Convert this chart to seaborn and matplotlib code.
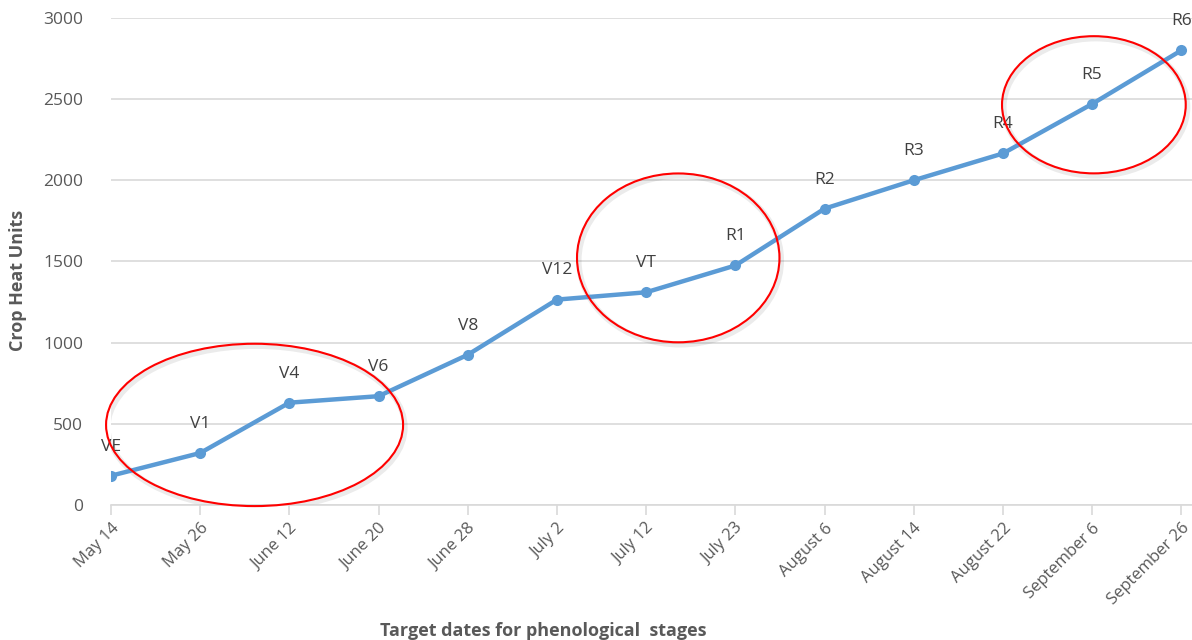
import matplotlib
matplotlib.use("Agg")
import matplotlib.pyplot as plt
from matplotlib.patches import Ellipse
import seaborn as sns
import pandas as pd

dates = ["May 14", "May 26", "June 12", "June 20", "June 28", "July 2", "July 12",
         "July 23", "August 6", "August 14", "August 22", "September 6", "September 26"]
stages = ["VE", "V1", "V4", "V6", "V8", "V12", "VT", "R1", "R2", "R3", "R4", "R5", "R6"]
heat_units = [180, 320, 630, 670, 925, 1265, 1310, 1475, 1825, 2000, 2165, 2470, 2800]
y_ticks = [0, 500, 1000, 1500, 2000, 2500, 3000]

df = pd.DataFrame({"pos": range(len(dates)), "date": dates,
                   "stage": stages, "chu": heat_units})

sns.set_theme(style="white")
plt.rcParams["font.family"] = ["Open Sans", "DejaVu Sans"]

fig = plt.figure(figsize=(11.92, 6.40), dpi=100)
ax = fig.add_axes([0.0931, 0.211, 0.9069, 0.761])

line_color = "#5B9BD5"
sns.lineplot(data=df, x="pos", y="chu", ax=ax, color=line_color, linewidth=3.2,
             marker="o", markersize=8, markeredgewidth=0, sort=False, zorder=3)

for _, row in df.iterrows():
    ax.annotate(row["stage"], (row["pos"], row["chu"]), xytext=(0, 21),
                textcoords="offset points", ha="center", va="center",
                fontsize=12.5, color="#404040", zorder=4)

# highlighted stage groups
groups = [((1.61, 493), 3.33, 1000), ((6.36, 1522), 2.27, 1040), ((11.02, 2465), 2.06, 845)]
for (cx, cy), w, h in groups:
    ax.add_patch(Ellipse((cx + 0.02, cy - 15), w, h, fill=False, edgecolor="#000000",
                         alpha=0.08, linewidth=4, zorder=2))
    ax.add_patch(Ellipse((cx, cy), w, h, fill=False, edgecolor="#FF0000",
                         linewidth=1.5, zorder=5, clip_on=False))

ax.set_xlim(0, 12.12)
ax.set_ylim(0, 3000)
ax.set_yticks(y_ticks)
ax.set_yticklabels([str(v) for v in y_ticks])
ax.set_xticks(df["pos"])
ax.set_xticklabels(dates, rotation=45, ha="right", rotation_mode="anchor")

ax.grid(axis="y", color="#D9D9D9", linewidth=1.2)
ax.grid(axis="x", visible=False)
for s in ["top", "right", "left"]:
    ax.spines[s].set_visible(False)
ax.spines["bottom"].set_color("#D9D9D9")
ax.spines["bottom"].set_linewidth(1.2)
ax.tick_params(axis="x", which="major", bottom=True, length=7, width=1.2,
               color="#D9D9D9", labelsize=12, labelcolor="#595959", pad=4)
ax.tick_params(axis="y", left=False, labelsize=12.5, labelcolor="#595959", pad=14)

ax.set_xlabel("Target dates for phenological  stages", fontsize=13,
              fontweight="bold", color="#595959")
ax.set_ylabel("Crop Heat Units", fontsize=13, fontweight="bold", color="#595959")
ax.xaxis.set_label_coords(0.4, -0.24)
ax.yaxis.set_label_coords(-0.078, 0.46)

fig.savefig("out.png", dpi=100)
